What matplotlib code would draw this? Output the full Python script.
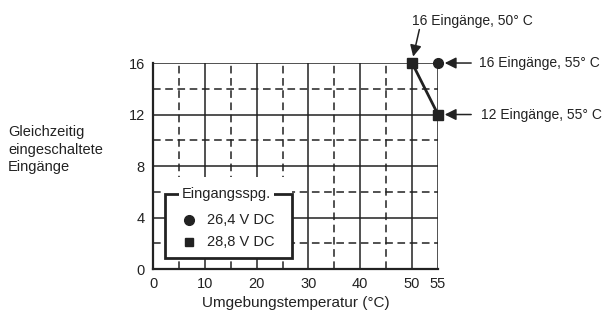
import matplotlib.pyplot as plt
from matplotlib.patches import Rectangle

plt.rcParams['font.family'] = ['Liberation Sans', 'DejaVu Sans']

# data
temp_264 = [55]
inputs_264 = [16]
temp_288 = [50, 55]
inputs_288 = [16, 12]

x_ticks = [0, 10, 20, 30, 40, 50, 55]
y_ticks = [0, 4, 8, 12, 16]
x_solid = [10, 20, 30, 40, 50, 55]
x_dashed = [5, 15, 25, 35, 45]
y_solid = [4, 8, 12, 16]
y_dashed = [2, 6, 10, 14]

notes = [("16 Eingänge, 50° C", (50.2, 16.5), (50.0, 19.3), (51.4, 18.6)),
         ("16 Eingänge, 55° C", (56.3, 16), (62.9, 16), (61.4, 16)),
         ("12 Eingänge, 55° C", (56.3, 12), (63.3, 12), (61.4, 12))]

fig = plt.figure(figsize=(6.06, 3.12), dpi=100)
ax = fig.add_axes([0.2525, 0.1378, 0.4703, 0.6602])
ax.set_xlim(0, 55)
ax.set_ylim(0, 16)

dark = '#222222'
for x in x_solid:
    ax.plot([x, x], [0, 16], color=dark, lw=1.1, zorder=1)
for x in x_dashed:
    ax.plot([x, x], [0, 16], color=dark, lw=1.1, ls=(0, (5, 3)), zorder=1)
for y in y_solid:
    ax.plot([0, 55], [y, y], color=dark, lw=1.1, zorder=1)
for y in y_dashed:
    ax.plot([0, 55], [y, y], color=dark, lw=1.1, ls=(0, (5, 3)), zorder=1)

for s in ['top', 'right']:
    ax.spines[s].set_visible(False)
for s in ['left', 'bottom']:
    ax.spines[s].set_linewidth(1.6)
    ax.spines[s].set_color(dark)

ax.set_xticks(x_ticks)
ax.set_yticks(y_ticks)
ax.tick_params(length=0, labelsize=10.5, colors='#222222', pad=6)

# data series
ax.plot(temp_288, inputs_288, color=dark, lw=2, zorder=5, clip_on=False)
ax.plot(temp_288, inputs_288, 's', color=dark, ms=6.5, zorder=6, clip_on=False)
ax.plot(temp_264, inputs_264, 'o', color=dark, ms=7, zorder=6, clip_on=False)

# annotations
for txt, xy, xyt, tail in notes:
    ax.annotate('', xy=xy, xytext=tail, annotation_clip=False,
                arrowprops=dict(arrowstyle='-|>', color=dark, lw=1.1, mutation_scale=17,
                                shrinkA=0, shrinkB=0))
    ax.text(xyt[0], xyt[1], txt, fontsize=10, va='center', ha='left', color=dark, clip_on=False)

# legend box drawn by hand
ax.add_patch(Rectangle((2.3, 5.8), 24.5, 1.35, facecolor='white', edgecolor='none', zorder=3))
ax.add_patch(Rectangle((2.3, 0.85), 24.5, 4.95, facecolor='white', edgecolor=dark, lw=2, zorder=3))
ax.text(14.2, 5.8, 'Eingangsspg.', fontsize=10.5, ha='center', va='center', color=dark, zorder=4,
        bbox=dict(facecolor='white', edgecolor='none', pad=2))
ax.plot([7.0], [3.8], 'o', color=dark, ms=7, zorder=4)
ax.plot([7.0], [2.1], 's', color=dark, ms=6, zorder=4)
ax.text(10.5, 3.8, '26,4 V DC', fontsize=10.5, va='center', color=dark, zorder=4)
ax.text(10.5, 2.1, '28,8 V DC', fontsize=10.5, va='center', color=dark, zorder=4)

fig.text(8 / 606, 0.52, 'Gleichzeitig\neingeschaltete\nEingänge', fontsize=10.5,
         ha='left', va='center', color=dark, linespacing=1.3)
fig.text(296 / 606, 0.028, 'Umgebungstemperatur (°C)', fontsize=11, ha='center', va='center', color=dark)

fig.savefig('out.png', dpi=100)
